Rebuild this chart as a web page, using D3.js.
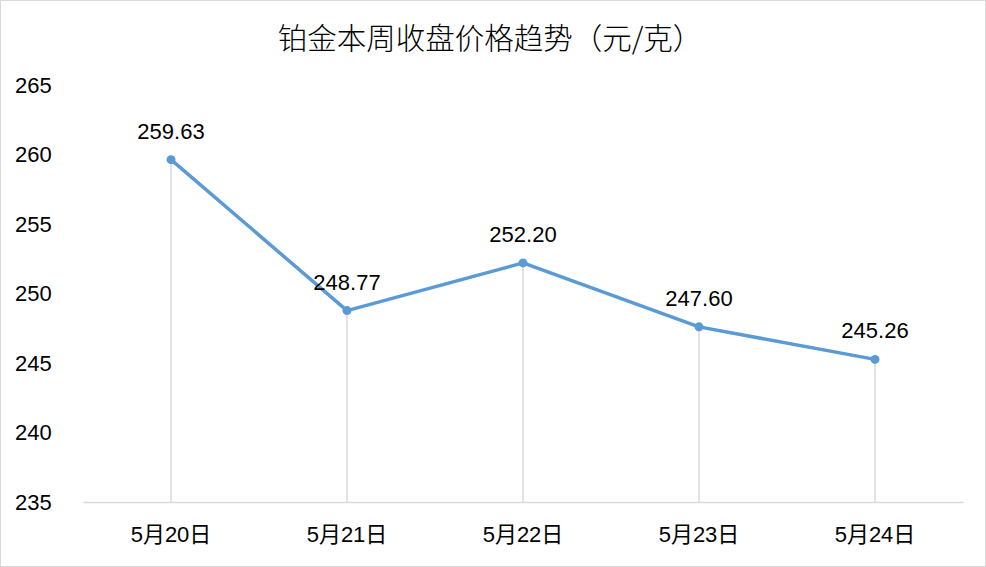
<!DOCTYPE html>
<html>
<head>
<meta charset="utf-8">
<script src="https://cdn.jsdelivr.net/npm/d3@7"></script>
<style>
  body { margin: 0; background: #fff; }
  svg text { font-family: "Liberation Sans", "Noto Sans CJK SC", sans-serif; fill: #000; }
</style>
</head>
<body>
<svg id="chart"></svg>
<script>
const WIDTH = 986;
const HEIGHT = 567;
const MARGIN = { top: 85, right: 23, bottom: 65, left: 83 };

// 数据
const dates = ["5月20日", "5月21日", "5月22日", "5月23日", "5月24日"];
const prices = [259.63, 248.77, 252.20, 247.60, 245.26];
const priceLabels = ["259.63", "248.77", "252.20", "247.60", "245.26"];
const yTicks = [235, 240, 245, 250, 255, 260, 265];
const title = "铂金本周收盘价格趋势（元/克）";

const svg = d3.select("#chart")
  .attr("width", WIDTH)
  .attr("height", HEIGHT);

// 边框
svg.append("rect")
  .attr("x", 0.5).attr("y", 0.5)
  .attr("width", WIDTH - 1).attr("height", HEIGHT - 1)
  .attr("fill", "#fff")
  .attr("stroke", "#d9d9d9")
  .attr("stroke-width", 1);

svg.append("text")
  .attr("x", 490)
  .attr("y", 49)
  .attr("text-anchor", "middle")
  .style("font-size", "29.5px")
  .style("font-family", "'Noto Sans CJK SC', sans-serif")
  .style("font-weight", 300)
  .text(title);

const x = d3.scaleBand()
  .domain(dates)
  .range([MARGIN.left, WIDTH - MARGIN.right]);

const y = d3.scaleLinear()
  .domain([235, 265])
  .range([HEIGHT - MARGIN.bottom, MARGIN.top]);

const cx = d => x(d) + x.bandwidth() / 2;

// y 轴标签
svg.append("g")
  .selectAll("text")
  .data(yTicks)
  .join("text")
  .attr("x", 15)
  .attr("y", d => y(d))
  .attr("dy", "0.36em")
  .style("font-size", "22px")
  .text(d => d);

// x 轴
const xAxis = svg.append("g")
  .attr("transform", "translate(0," + y(235) + ")")
  .call(d3.axisBottom(x).tickSize(0).tickPadding(20));
xAxis.select(".domain").attr("stroke", "#d9d9d9").attr("stroke-width", 1.3);
xAxis.selectAll("text")
  .style("font-size", "22px")
  .attr("dy", "0.71em")
  .attr("y", 24);

const points = dates.map((d, i) => ({ date: d, value: prices[i], label: priceLabels[i] }));

// 垂直线
svg.append("g")
  .selectAll("line")
  .data(points)
  .join("line")
  .attr("x1", d => cx(d.date))
  .attr("x2", d => cx(d.date))
  .attr("y1", d => y(d.value))
  .attr("y2", y(235))
  .attr("stroke", "#d9d9d9")
  .attr("stroke-width", 1.5);

const line = d3.line()
  .x(d => cx(d.date))
  .y(d => y(d.value));

svg.append("path")
  .datum(points)
  .attr("d", line)
  .attr("fill", "none")
  .attr("stroke", "#5b9bd5")
  .attr("stroke-width", 3.5)
  .attr("stroke-linejoin", "round");

svg.append("g")
  .selectAll("circle")
  .data(points)
  .join("circle")
  .attr("cx", d => cx(d.date))
  .attr("cy", d => y(d.value))
  .attr("r", 4.5)
  .attr("fill", "#5b9bd5");

svg.append("g")
  .selectAll("text")
  .data(points)
  .join("text")
  .attr("x", d => cx(d.date))
  .attr("y", d => y(d.value) - 21)
  .attr("text-anchor", "middle")
  .style("font-size", "22px")
  .text(d => d.label);
</script>
</body>
</html>
